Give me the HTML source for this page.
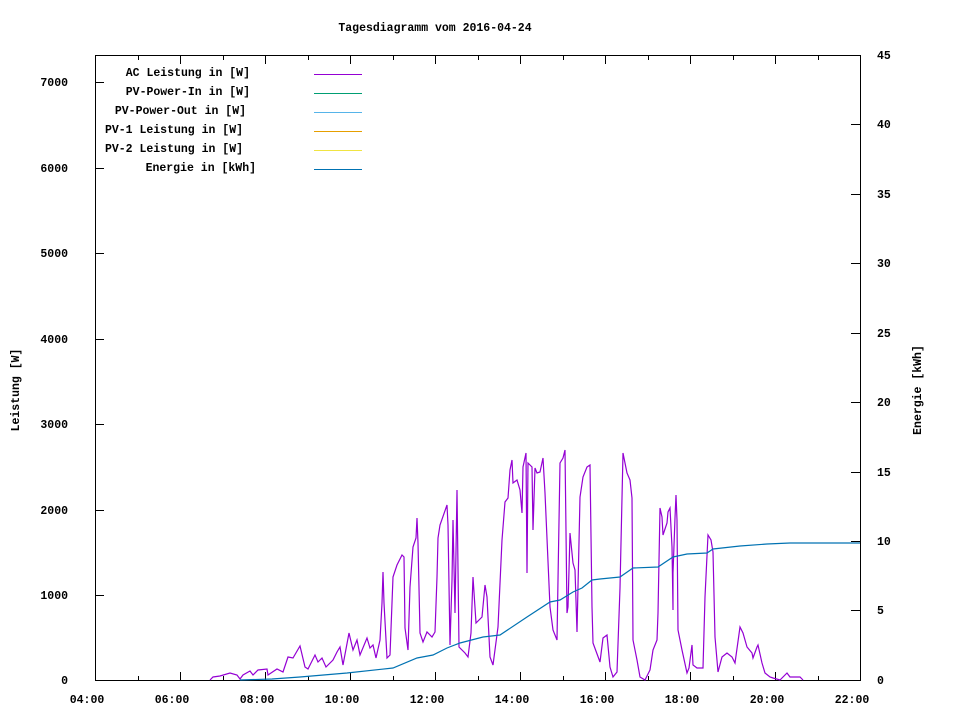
<!DOCTYPE html>
<html><head><meta charset="utf-8"><style>
html,body{margin:0;padding:0;background:#fff;}
svg{display:block;font-family:"Liberation Mono",monospace;font-size:11.5px;font-weight:bold;}
</style></head><body>
<svg width="960" height="720" viewBox="0 0 960 720" xmlns="http://www.w3.org/2000/svg">
<rect width="960" height="720" fill="#fff"/>
<text x="435" y="31" text-anchor="middle">Tagesdiagramm vom 2016-04-24</text>
<rect x="95.5" y="55.5" width="765" height="625" fill="none" stroke="#000" stroke-width="1"/>
<g stroke="#000" stroke-width="1">
<path d="M95 680.5h9M95 595.5h9M95 510.5h9M95 424.5h9M95 339.5h9M95 253.5h9M95 168.5h9M95 82.5h9"/>
<path d="M860 680.5h-9M860 610.5h-9M860 541.5h-9M860 472.5h-9M860 402.5h-9M860 333.5h-9M860 263.5h-9M860 194.5h-9M860 124.5h-9M860 55.5h-9"/>
<path d="M95.5 681v-9M180.5 681v-9M265.5 681v-9M350.5 681v-9M435.5 681v-9M520.5 681v-9M605.5 681v-9M690.5 681v-9M775.5 681v-9M860.5 681v-9
M138.5 681v-5M223.5 681v-5M308.5 681v-5M393.5 681v-5M478.5 681v-5M563.5 681v-5M648.5 681v-5M733.5 681v-5M818.5 681v-5
M95.5 55v9M180.5 55v9M265.5 55v9M350.5 55v9M435.5 55v9M520.5 55v9M605.5 55v9M690.5 55v9M775.5 55v9
M138.5 55v5M223.5 55v5M308.5 55v5M393.5 55v5M478.5 55v5M563.5 55v5M648.5 55v5M733.5 55v5M818.5 55v5"/>
</g>
<g text-anchor="end">
<text x="68" y="684">0</text><text x="68" y="599">1000</text><text x="68" y="514">2000</text><text x="68" y="428">3000</text><text x="68" y="343">4000</text><text x="68" y="257">5000</text><text x="68" y="172">6000</text><text x="68" y="86">7000</text>
</g>
<g>
<text x="877" y="684">0</text><text x="877" y="614">5</text><text x="877" y="545">10</text><text x="877" y="476">15</text><text x="877" y="406">20</text><text x="877" y="337">25</text><text x="877" y="267">30</text><text x="877" y="198">35</text><text x="877" y="128">40</text><text x="877" y="59">45</text>
</g>
<g text-anchor="middle">
<text x="87" y="703">04:00</text><text x="172" y="703">06:00</text><text x="257" y="703">08:00</text><text x="342" y="703">10:00</text><text x="427" y="703">12:00</text><text x="512" y="703">14:00</text><text x="597" y="703">16:00</text><text x="682" y="703">18:00</text><text x="767" y="703">20:00</text><text x="852" y="703">22:00</text>
</g>
<text transform="translate(19,390) rotate(-90)" text-anchor="middle">Leistung [W]</text>
<text transform="translate(921,390) rotate(-90)" text-anchor="middle">Energie [kWh]</text>
<g text-anchor="end">
<text x="250" y="76">AC Leistung in [W]</text>
<text x="250" y="95">PV-Power-In in [W]</text>
<text x="246" y="114">PV-Power-Out in [W]</text>
<text x="243" y="133">PV-1 Leistung in [W]</text>
<text x="243" y="152">PV-2 Leistung in [W]</text>
<text x="256" y="171">Energie in [kWh]</text>
</g>
<path d="M314 74.5h48" stroke="#9400d3"/>
<path d="M314 93.5h48" stroke="#009e73"/>
<path d="M314 112.5h48" stroke="#56b4e9"/>
<path d="M314 131.5h48" stroke="#e69f00"/>
<path d="M314 150.5h48" stroke="#f0e442"/>
<path d="M314 169.5h48" stroke="#0072b2"/>
<polyline fill="none" stroke="#9400d3" stroke-width="1.2" points="210,680 213,677 220,676 230,673 237,675 240,679 243,675 250,671 253,675 258,670 267,669 268,675 277,669 283,672 288,657 293,658 300,646 305,667 308,669 315,655 318,662 322,658 326,667 333,660 337,652 340,647 343,665 349,633 353,650 357,640 360,655 367,638 370,648 373,645 376,658 380,640 382,603 383,572 384,603 387,658 390,655 393,577 397,565 402,555 404,557 405,628 408,650 410,587 413,547 416,538 417,518 418,543 420,633 423,642 427,632 432,637 435,632 437,577 438,538 440,525 447,505 448,525 450,645 452,580 453,520 455,613 457,490 459,647 465,653 468,657 471,633 473,577 476,623 482,617 485,585 487,597 490,657 493,665 498,627 502,540 505,502 508,498 510,470 512,460 513,483 517,480 520,490 522,513 523,467 526,453 527,573 528,463 532,467 533,530 535,468 537,473 540,472 543,458 545,493 550,607 553,630 557,640 558,580 560,463 563,458 565,450 567,613 568,607 570,533 573,563 575,570 577,632 580,497 583,477 587,467 590,465 592,607 593,643 600,662 603,638 607,635 610,667 613,677 617,672 620,588 622,498 623,453 627,473 630,480 632,498 633,640 637,660 640,677 645,680 650,670 653,650 657,640 658,613 660,508 662,517 663,535 667,523 668,512 670,508 672,547 673,610 673,573 675,518 676,495 677,520 678,630 682,650 687,673 689,668 692,645 693,665 697,668 703,668 705,597 708,535 711,540 713,552 715,637 718,672 722,657 727,653 732,657 735,663 740,627 743,633 747,647 752,653 753,658 757,647 758,645 762,663 765,673 770,677 773,678 780,680 787,673 790,677 800,677 803,680"/>
<polyline fill="none" stroke="#0072b2" stroke-width="1.2" points="240,680 272,679 300,677 347,673 393,668 417,658 433,655 447,648 460,643 483,637 500,635 527,617 550,602 560,600 573,592 582,588 592,580 600,579 620,577 633,568 658,567 673,557 687,554 707,553 713,549 740,546 767,544 790,543 860,543"/>
</svg>
</body></html>
